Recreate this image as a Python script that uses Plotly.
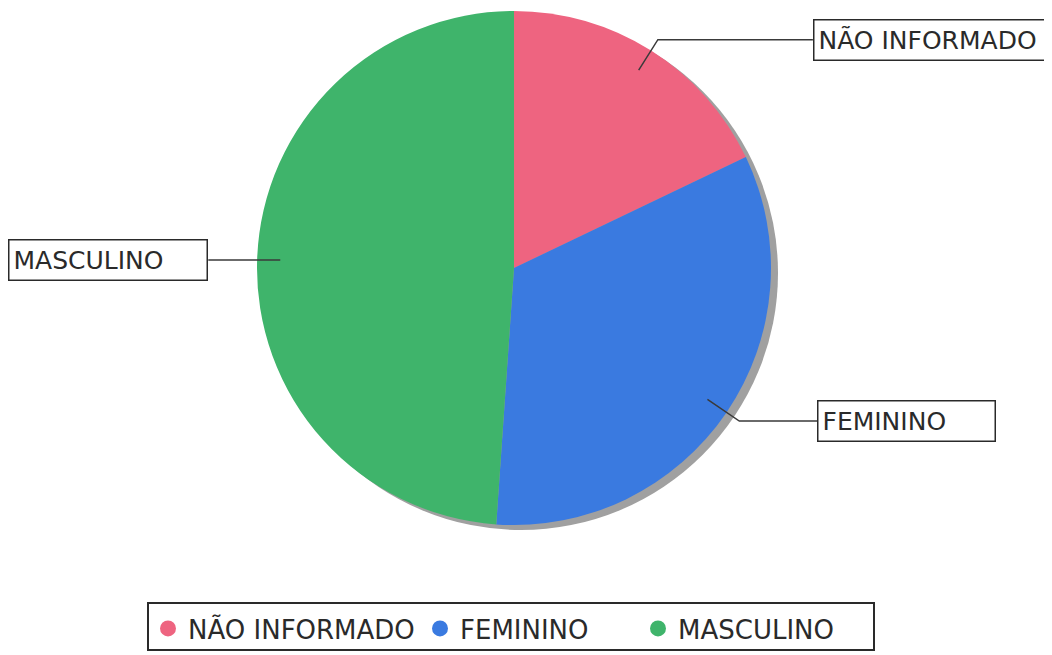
import math
import plotly.graph_objects as go

# ---- data ----
categories = ["NÃO INFORMADO", "FEMININO", "MASCULINO"]
values = [17.9, 33.2, 48.9]
colors = ["#ee6480", "#3a7ae0", "#3fb46b"]

# ---- layout constants (page pixels) ----
W, H = 1052, 655
OFF = 8  # page body margin
CX, CY, R = 514, 268, 257
SHADOW_DX, SHADOW_DY = 7, 5
FONT = "DejaVu Sans"
LEGEND_X = [148, 420, 638]
LEGEND_BOX = (148, 603, 874, 650)

def px_to_paper(x, y):
    return (x - OFF) / W, 1 - (y - OFF) / H

def dom(cx, cy, r):
    x0, y1 = px_to_paper(cx - r, cy - r)
    x1, y0 = px_to_paper(cx + r, cy + r)
    return dict(x=[x0, x1], y=[y0, y1])

fig = go.Figure()

# shadow
fig.add_trace(go.Pie(values=[1], labels=["shadow"], marker=dict(colors=["#a0a0a0"]),
                     domain=dom(CX + SHADOW_DX, CY + SHADOW_DY, R), sort=False,
                     textinfo="none", hoverinfo="skip", showlegend=False))

fig.add_trace(go.Pie(values=values, labels=categories, marker=dict(colors=colors),
                     domain=dom(CX, CY, R), sort=False, direction="clockwise",
                     rotation=0, textinfo="none", showlegend=False))

# legend entries (circle markers), each in its own legend
legend_names = ["legend", "legend2", "legend3"]
for c, col, ln in zip(categories, colors, legend_names):
    fig.add_trace(go.Scatter(x=[None], y=[None], mode="markers", name=c, legend=ln,
                             marker=dict(color=col, size=16, symbol="circle")))

# leader lines + boxes, derived from slice mid angles
total = sum(values)
cum = 0
shapes = []
annotations = []
label_cfg = {
    "NÃO INFORMADO": dict(r_in=0.91, r_el=1.05, hlen=155, side=1, w=237),
    "FEMININO": dict(r_in=0.91, r_el=1.06, hlen=78, side=1, w=179),
    "MASCULINO": dict(r_in=0.91, r_el=0.91, hlen=72, side=-1, w=200),
}
for c, v in zip(categories, values):
    mid = (cum + v / 2) / total * 2 * math.pi
    cum += v
    cfg = label_cfg[c]
    ax = CX + cfg["r_in"] * R * math.sin(mid)
    ay = CY - cfg["r_in"] * R * math.cos(mid)
    ex = CX + cfg["r_el"] * R * math.sin(mid)
    ey = CY - cfg["r_el"] * R * math.cos(mid)
    bx = ex + cfg["side"] * cfg["hlen"]
    p = [px_to_paper(ax, ay), px_to_paper(ex, ey), px_to_paper(bx, ey)]
    path = "M {} {} L {} {} L {} {}".format(p[0][0], p[0][1], p[1][0], p[1][1], p[2][0], p[2][1])
    shapes.append(dict(type="path", xref="paper", yref="paper", path=path,
                       line=dict(color="#3a3a3a", width=1.5)))
    annotations.append(dict(xref="paper", yref="paper", x=p[2][0], y=p[2][1],
                            xanchor="left" if cfg["side"] > 0 else "right", yanchor="middle",
                            text=c, showarrow=False, align="left",
                            width=cfg["w"] - 11, height=31,
                            font=dict(family=FONT, size=25, color="#2a2a2a"),
                            bordercolor="#2a2a2a", borderwidth=1.5, borderpad=4,
                            bgcolor="white"))

# legend frame
bx0, by0 = px_to_paper(LEGEND_BOX[0], LEGEND_BOX[1])
bx1, by1 = px_to_paper(LEGEND_BOX[2], LEGEND_BOX[3])
shapes.append(dict(type="rect", xref="paper", yref="paper", x0=bx0, y0=by1, x1=bx1, y1=by0,
                   line=dict(color="#2a2a2a", width=2)))

legend_common = dict(orientation="h", yanchor="top", xanchor="left",
                     borderwidth=0, bgcolor="rgba(0,0,0,0)",
                     font=dict(family=FONT, size=26, color="#2a2a2a"),
                     itemsizing="trace")
leg_layout = {}
for ln, lxp in zip(legend_names, LEGEND_X):
    lx, ly = px_to_paper(lxp, LEGEND_BOX[1] + 2)
    leg_layout[ln] = dict(legend_common, x=lx, y=ly)

fig.update_layout(
    width=W, height=H,
    margin=dict(l=0, r=0, t=0, b=0),
    paper_bgcolor="white", plot_bgcolor="white",
    xaxis=dict(visible=False), yaxis=dict(visible=False),
    shapes=shapes, annotations=annotations,
    showlegend=True,
    **leg_layout,
)

fig.write_html("out.html")
